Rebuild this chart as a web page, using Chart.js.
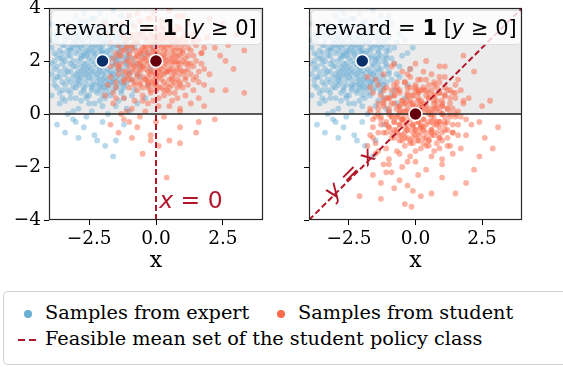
<!DOCTYPE html>
<html>
<head>
<meta charset="utf-8">
<script src="https://cdn.jsdelivr.net/npm/chart.js@4.4.0/dist/chart.umd.min.js"></script>
<style>
  html, body { margin:0; padding:0; background:#fff; width:563px; height:370px; overflow:hidden; }
  canvas { position:absolute; top:0; }
  #c1 { left:0; }
  #c2 { left:301px; }
  #legend { position:absolute; left:3px; top:291px; width:580px; height:72px; border:1px solid #d0d0d0; border-radius:5px;
            font-family:'DejaVu Serif'; font-size:19.3px; color:#000; }
  .txt { position:absolute; white-space:nowrap; line-height:20px; }
  .dot { position:absolute; width:8px; height:8px; border-radius:50%; }
  .dash { position:absolute; width:7px; height:2px; background:#b2182b; }
</style>
</head>
<body>
<canvas id="c1" width="275" height="282"></canvas>
<canvas id="c2" width="231" height="282"></canvas>
<div id="legend">
  <span class="dot" style="left:20px;top:18px;background:#6baed6"></span>
  <span class="txt" id="lg0" style="left:41px;top:11px"></span>
  <span class="dot" style="left:273px;top:18px;background:#fb6a4a"></span>
  <span class="txt" id="lg1" style="left:294px;top:11px"></span>
  <span class="dash" style="left:14px;top:47px"></span>
  <span class="dash" style="left:25px;top:47px"></span>
  <span class="txt" id="lg2" style="left:41px;top:37px"></span>
</div>
<script>
// axes
const xTicks = [-2.5, 0, 2.5];
const yTicks = [-4, -2, 0, 2, 4];
const axisMin = -4, axisMax = 4;

// samples, [x, y]
const expertPoints = [
  [-1.7,1.5],[-3.2,2.4],[-1.2,3.1],[-2.1,1.1],[-0.5,2.2],[-2.6,0.6],[-1.9,2.7],[-3.8,1.7],[-1.1,1.8],[-2.4,3.6],
  [-1.4,2.3],[-2.9,1.3],[-0.8,0.9],[-2.2,2.1],[-1.6,3.9],[-3.5,3.0],[-0.1,2.5],[-2.7,1.9],[-2.0,0.3],[-1.0,2.9],
  [-2.5,2.6],[-1.3,1.2],[-3.0,2.8],[-1.8,0.0],[-2.3,1.6],[-0.6,1.4],[-3.3,0.9],[-1.5,2.0],[-2.8,3.3],[-2.0,2.4],
  [-1.2,-0.4],[-3.6,2.1],[-2.4,1.0],[-0.9,3.4],[-1.7,2.8],[-3.1,-0.2],[-2.2,3.0],[-1.4,0.5],[-2.6,2.2],[-0.3,1.1],
  [-3.4,1.5],[-2.0,1.8],[-1.1,2.4],[-2.9,0.2],[-1.6,1.3],[-3.7,2.7],[-2.3,-0.8],[-0.7,2.7],[-1.9,3.5],[-3.0,1.8],
  [-2.5,1.4],[-1.3,3.7],[-3.9,0.7],[-1.8,2.2],[-2.7,3.8],[-0.4,0.6],[-2.1,2.9],[-1.5,-1.0],[-3.2,1.2],[-2.4,2.5],
  [-1.0,1.6],[-2.8,0.5],[-1.7,3.2],[-3.5,2.3],[-2.2,0.8],[-0.9,2.1],[-2.6,1.7],[-1.4,2.6],[-3.3,3.4],[-2.0,-0.3],
  [-1.2,1.0],[-2.9,2.6],[-3.8,1.1],[-1.6,1.9],[-2.3,3.3],[-0.6,3.0],[-2.7,-0.5],[-1.9,1.4],[-3.1,2.0],[-1.1,0.2],
  [-2.5,3.1],[-3.6,0.4],[-1.3,2.9],[-2.1,1.3],[-0.8,1.9],[-3.0,3.7],[-1.7,0.7],[-2.4,2.0],[-3.4,-0.7],[-1.5,3.4],
  [-2.2,1.5],[-1.0,2.6],[-2.8,2.1],[-3.7,1.4],[-1.9,-1.2],[-2.6,3.5],[-0.2,1.7],[-3.2,2.9],[-1.4,1.1],[-2.0,2.7],
  [-1.8,1.0],[-3.5,1.9],[-2.7,0.9],[-1.2,3.3],[-2.3,2.3],[-0.7,0.4],[-3.1,0.1],[-1.6,2.5],[-1.6,-1.6],[-3.9,2.5],
  [-2.1,3.8],[-1.3,1.5],[-2.9,1.6],[-0.5,3.2],[-3.3,2.2],[-1.8,2.0],[-2.4,0.1],[-1.1,2.2],[-3.6,3.2],[-2.2,1.2],
  [-1.5,0.3],[-2.8,2.8],[-3.0,1.0],[-0.9,1.3],[-2.0,3.2],[-3.4,1.7],[-1.7,2.6],[-2.6,-0.1],[-1.0,3.7],[-3.8,2.0],
  [-2.3,1.9],[-1.4,1.7],[-2.9,3.0],[-3.2,0.6],[-1.9,2.3],[-0.3,2.3],[-2.5,0.7],[-3.7,-0.4],[-1.2,2.0],[-2.1,0.5],
  [-1.6,3.0],[-3.1,2.5],[-2.7,1.5],[-0.8,2.5],[-3.5,1.2],[-2.0,1.1],[-1.3,0.8],[-2.4,2.9],[-3.9,1.5],[-1.8,1.7],
  [-2.2,-1.0],[-1.1,1.2],[-3.3,0.0],[-2.6,2.4],[-1.5,2.1],[-0.6,1.8],[-2.8,1.2],[-3.0,2.3],[-1.9,0.6],[-2.3,3.6],
  [-1.7,1.2],[-3.6,0.8],[-2.5,2.3],[-1.2,2.7],[-3.4,2.6],[-2.0,0.9],[-0.4,2.8],[-2.9,-0.9],[-1.4,2.4],[-3.2,1.6],
  [-2.1,2.0],[-1.0,0.1],[-2.7,2.7],[-3.8,3.0],[-1.6,0.9],[-2.4,1.3],[-1.3,2.2],[-3.1,1.4],[-0.7,1.5],[-2.2,2.6],
  [-1.8,3.0],[-3.5,0.6],[-2.6,1.1],[-1.1,1.9],[-2.0,1.5],[-3.0,-0.3],[-1.5,1.6],[-2.8,1.8],[-0.9,0.7],[-3.7,1.8],
  [-2.3,0.4],[-1.7,2.1],[-3.3,2.4],[-2.5,1.8],[-1.2,0.6],[-2.1,2.2],[-3.9,3.4],[-1.4,3.1],[-2.7,2.2],[-1.9,1.6],
  [-2.3,2.2],[-1.6,1.8],[-2.8,2.5],[-1.9,1.2],[-3.2,1.9],[-2.5,3.0],[-1.4,2.8],[-2.1,1.7],[-3.0,1.5],[-1.7,2.4],
  [-2.6,1.3],[-3.4,2.8],[-2.0,2.1],[-1.2,1.4],[-2.9,2.0],[-3.6,1.6],[-2.2,2.8],[-1.8,0.8],[-2.4,1.7],[-3.1,3.1],
  [-1.5,2.6],[-2.7,1.0],[-3.3,1.3],[-2.0,3.4],[-1.3,2.5],[-2.5,2.1],[-3.8,2.3],[-1.9,1.9],[-2.8,0.8],[-2.2,1.4],
  [-1.6,1.5],[-3.5,2.6],[-2.4,2.7],[-1.1,2.1],[-2.9,2.4],[-3.0,0.6],[-2.1,2.5],[-1.7,1.1],[-2.6,2.9],[-3.7,1.0],
  [-2.3,1.1],[-1.4,1.9],[-3.2,2.2],[-2.7,3.2],[-1.9,2.9],[-2.5,0.4],[-3.4,1.1],[-1.8,2.4],[-2.0,1.3],[-3.1,1.8],
  [-2.8,1.6],[-1.5,1.0],[-2.2,3.3],[-3.6,2.4],[-1.3,1.7],[-2.6,1.9],[-3.0,2.6],[-2.4,0.9],[-1.7,3.3],[-3.9,1.9],
  [-2.1,1.0],[-1.2,2.6],[-2.9,1.1],[-3.3,3.0],[-2.5,2.4],[-1.6,2.2],[-2.0,0.7],[-3.5,0.9],[-2.7,2.3],[-1.4,1.3],
  [-3.1,2.7],[-2.3,2.6],[-1.9,1.0],[-2.8,3.5],[-3.7,2.2],[-1.0,1.5],[-2.4,1.5],[-3.2,0.8],[-1.8,2.7],[-2.6,0.7],
  [-2.2,1.8],[-3.0,1.2],[-1.5,2.9],[-2.9,2.9],[-3.8,1.3],[-2.0,2.3],[-1.3,0.9],[-2.7,1.7],[-3.4,2.0],[-1.7,1.6],
  [-2.5,3.3],[-3.6,1.4],[-2.1,1.6],[-1.1,2.8],[-2.8,2.2],[-3.3,1.6],[-1.9,3.1],[-2.4,1.1],[-3.0,3.3],[-1.6,1.2],
  [-2.3,2.4],[-3.9,2.8],[-2.6,1.5],[-1.2,1.1],[-3.1,1.0],[-2.0,2.6],[-1.5,1.4],[-2.9,1.4],[-3.5,2.1],[-2.2,0.9],
  [-1.8,1.3],[-2.7,2.6],[-3.2,2.5],[-1.4,2.1],[-2.5,1.6],[-3.7,2.9],[-2.1,2.4],[-1.0,2.4],[-2.8,1.4],[-3.4,0.5]
];
const studentPointsLeft = [
  [0.4,1.6],[-0.9,2.5],[1.1,3.0],[-0.3,1.2],[1.7,2.3],[-0.5,0.5],[0.2,2.8],[-1.4,1.8],[0.8,1.9],[-0.2,3.6],
  [0.6,2.2],[-1.0,1.3],[1.4,0.9],[0.0,2.1],[0.5,3.9],[-1.3,3.0],[2.2,2.5],[-0.6,1.9],[0.1,0.3],[1.0,2.9],
  [-0.4,2.6],[0.7,1.2],[-1.1,2.8],[0.3,-0.1],[-0.2,1.6],[1.5,1.4],[-1.5,1.0],[0.4,2.0],[-0.8,3.3],[0.0,2.4],
  [0.9,-0.5],[-1.6,2.1],[-0.3,1.0],[1.2,3.4],[0.3,2.8],[-1.2,-0.2],[0.1,3.0],[0.6,0.5],[-0.7,2.2],[1.8,1.1],
  [-1.4,1.5],[0.0,1.8],[0.9,2.4],[-0.9,0.2],[0.5,1.3],[-1.7,2.7],[-0.2,-0.8],[1.4,2.7],[0.2,3.5],[-1.0,1.8],
  [-0.5,1.4],[0.8,3.7],[-1.9,0.7],[0.3,2.2],[-0.7,3.8],[1.6,0.6],[-0.1,2.9],[0.5,-1.0],[-1.2,1.2],[-0.4,2.5],
  [1.0,1.6],[-0.8,0.5],[0.3,3.2],[-1.5,2.3],[-0.2,0.8],[1.1,2.1],[-0.6,1.7],[0.6,2.6],[-1.3,3.4],[0.0,-0.3],
  [0.8,1.0],[-0.9,2.6],[-1.8,1.1],[0.4,1.9],[-0.3,3.3],[1.4,3.0],[-0.7,-0.5],[0.1,1.4],[-1.1,2.0],[0.9,0.2],
  [-0.5,3.1],[-1.6,0.4],[0.7,2.9],[-0.1,1.3],[1.2,1.9],[-1.0,3.7],[0.3,0.7],[-0.4,2.0],[-1.4,-0.7],[0.5,3.4],
  [-0.2,1.5],[1.0,2.6],[-0.8,2.1],[-1.7,1.4],[0.1,-1.2],[-0.6,3.5],[1.8,1.7],[-1.2,2.9],[0.6,1.1],[0.0,2.7],
  [0.2,1.0],[-1.5,1.9],[-0.7,0.9],[0.8,3.3],[-0.3,2.3],[1.3,0.4],[-1.1,0.1],[0.4,2.5],[-0.5,-1.5],[2.4,2.2],
  [-0.1,3.8],[0.7,1.5],[-0.9,1.6],[1.5,3.2],[-1.3,2.2],[0.2,2.0],[-0.4,0.1],[0.9,2.2],[-1.6,3.2],[-0.2,1.2],
  [0.5,0.3],[-0.8,2.8],[-1.0,1.0],[1.1,1.3],[0.0,3.2],[-1.4,1.7],[0.3,2.6],[-0.6,-0.1],[1.0,3.7],[-1.8,2.0],
  [-0.3,1.9],[0.6,1.7],[-0.9,3.0],[-1.2,0.6],[0.1,2.3],[1.7,2.3],[-0.5,0.7],[-1.7,-0.4],[0.8,2.0],[-0.1,0.5],
  [0.4,3.0],[-1.1,2.5],[-0.7,1.5],[1.2,2.5],[-1.5,1.2],[0.0,1.1],[0.7,0.8],[-0.4,2.9],[2.0,1.5],[0.2,1.7],
  [-0.2,-1.0],[0.9,1.2],[-1.3,0.0],[-0.6,2.4],[0.5,2.1],[1.4,1.8],[-0.8,1.2],[-1.0,2.3],[0.1,0.6],[-0.3,3.6],
  [0.3,1.2],[-1.6,0.8],[-0.5,2.3],[0.8,2.7],[-1.4,2.6],[0.0,0.9],[1.6,2.8],[-0.9,-0.9],[0.6,2.4],[-1.2,1.6],
  [-0.1,2.0],[0.9,0.1],[-0.7,2.7],[-1.8,3.0],[0.4,0.9],[-0.4,1.3],[0.7,2.2],[-1.1,1.4],[1.3,1.5],[-0.2,2.6],
  [0.2,3.0],[-1.5,0.6],[-0.6,1.1],[0.9,1.9],[0.0,1.5],[-1.0,-0.3],[0.5,1.6],[-0.8,1.8],[1.1,0.7],[-1.7,1.8],
  [-0.3,0.4],[0.3,2.1],[-1.3,2.4],[-0.5,1.8],[0.8,0.6],[-0.1,2.2],[-1.9,3.4],[0.6,3.1],[-0.7,2.2],[0.1,1.6],
  [3.3,0.8],[3.3,2.4],[2.2,-0.2],[0.9,-1.1],[2.9,1.7],[2.6,0.9],[3.0,3.0],[2.5,3.4],[2.1,0.9],[2.3,3.1],
  [1.9,2.9],[2.6,2.0],[1.8,0.3],[2.0,3.6],[0.4,-2.4],[1.6,-0.3],[2.7,2.6],[1.5,-0.7],
  [0.2,2.2],[-0.5,1.8],[0.8,2.5],[0.0,1.2],[1.1,1.9],[-0.2,3.0],[0.5,2.8],[-0.8,1.7],[0.3,1.5],[1.3,2.4],
  [-0.4,1.3],[0.7,3.1],[-1.0,2.2],[0.1,2.6],[1.5,2.0],[-0.6,2.9],[0.4,1.1],[-0.1,1.9],[1.0,2.3],[-1.2,2.4],
  [0.6,1.9],[-0.3,2.2],[0.9,1.5],[-0.7,1.4],[0.2,3.3],[1.2,1.1],[-0.9,1.9],[0.0,2.9],[0.5,0.8],[-0.4,3.2],
  [1.4,2.2],[-0.1,1.1],[0.7,2.0],[-1.1,1.6],[0.3,2.4],[1.6,1.6],[-0.6,2.3],[0.1,1.7],[0.9,2.8],[-0.3,1.6],
  [-0.8,2.4],[0.4,2.3],[1.1,1.4],[-0.2,2.5],[0.6,1.4],[-1.3,1.9],[0.0,1.4],[1.3,2.9],[-0.5,1.0],[0.8,1.7],
  [0.2,1.3],[-0.7,3.0],[1.0,1.0],[-0.1,2.3],[0.5,2.6],[-1.0,1.5],[0.3,1.8],[1.7,1.9],[-0.4,1.7],[0.7,2.4],
  [-0.2,0.9],[0.9,3.2],[-0.9,2.9],[0.1,2.0],[1.2,1.7],[-0.6,1.2],[0.4,2.9],[-0.3,2.8],[0.8,1.3],[-1.4,2.2],
  [0.0,2.2],[1.5,2.6],[-0.5,2.5],[0.6,2.0],[-0.1,1.6],[1.0,2.0],[-0.8,1.1],[0.3,0.9],[1.4,1.3],[-0.2,2.0],
  [0.5,1.7],[-1.1,2.6],[0.2,2.5],[0.9,1.7],[-0.4,2.1],[1.1,2.7],[-0.7,1.9],[0.1,1.0],[0.7,2.7],[-0.3,1.4],
  [1.8,2.5],[-0.9,1.3],[0.4,1.6],[-0.1,2.7],[1.3,1.9],[-0.6,1.6],[0.6,1.3],[0.0,2.0],[1.0,2.4],[-1.2,1.3],
  [0.3,2.9],[-0.5,2.1],[0.8,2.2],[-0.2,1.8],[1.2,2.2],[-0.8,2.7],[0.5,1.0],[1.6,1.2],[-0.4,2.4],[0.1,2.8],
  [0.9,1.1],[-1.0,2.0],[0.2,1.5],[0.6,2.9],[-0.3,1.1],[1.4,2.8],[-0.6,2.0],[0.7,1.6],[-0.1,2.4],[1.1,1.6]
];
const studentPointsRight = [
  [0.3,-0.6],[-1.0,0.6],[1.2,0.9],[-0.2,-1.0],[1.6,0.1],[-0.6,-1.5],[0.1,0.9],[-1.5,-0.1],[0.9,-0.3],[-0.3,1.5],
  [0.7,0.2],[-0.8,-0.6],[1.3,-1.2],[0.1,0.0],[0.4,2.0],[-1.4,1.1],[2.0,0.6],[-0.5,-0.2],[0.0,-1.8],[1.1,1.0],
  [-0.3,0.7],[0.6,-0.8],[-1.2,0.9],[0.4,-2.1],[-0.1,-0.5],[1.4,-0.7],[-1.6,-0.9],[0.5,0.1],[-0.7,1.2],[0.1,0.5],
  [1.0,-2.4],[-1.7,0.2],[-0.4,-0.9],[1.1,1.4],[0.2,0.9],[-1.1,-2.2],[0.0,1.1],[0.7,-1.4],[-0.6,0.3],[1.9,-0.8],
  [-1.3,-0.4],[0.1,-0.1],[1.0,0.5],[-1.0,-1.7],[0.6,-0.6],[-1.6,0.8],[-0.3,-2.7],[1.5,0.8],[0.3,1.6],[-0.9,-0.1],
  [-0.4,-0.5],[0.9,1.8],[-1.8,-1.2],[0.2,0.3],[-0.8,1.9],[1.7,-1.3],[0.0,1.0],[0.6,-3.0],[-1.1,-0.7],[-0.3,0.6],
  [1.1,-0.3],[-0.7,-1.4],[0.4,1.3],[-1.4,0.4],[-0.1,-1.1],[1.2,0.2],[-0.5,-0.2],[0.7,0.7],[-1.2,1.5],[0.1,-2.3],
  [0.9,-0.9],[-0.8,0.7],[-1.7,-0.8],[0.5,0.0],[-0.2,1.4],[1.5,1.1],[-0.6,-2.5],[0.2,-0.5],[-1.0,0.1],[1.0,-1.7],
  [-0.4,1.2],[-1.5,-1.5],[0.8,1.0],[0.0,-0.6],[1.3,0.0],[-0.9,1.8],[0.4,-1.2],[-0.3,0.1],[-1.3,-2.6],[0.6,1.5],
  [-0.1,-0.4],[1.1,0.7],[-0.7,0.2],[-1.6,-0.5],[0.2,-3.1],[-0.5,1.6],[1.9,-0.2],[-1.1,1.0],[0.7,-0.8],[0.1,0.8],
  [0.3,-0.9],[-1.4,0.0],[-0.6,-1.0],[0.9,1.4],[-0.2,0.4],[1.4,-1.5],[-1.0,-1.9],[0.5,0.6],[-0.4,-3.4],[2.5,0.3],
  [0.0,1.9],[0.8,-0.4],[-0.8,-0.3],[1.6,1.3],[-1.2,0.3],[0.3,0.1],[-0.3,-1.8],[1.0,0.3],[-1.5,1.3],[-0.1,-0.7],
  [0.6,-1.6],[-0.7,0.9],[-0.9,-0.9],[1.2,-0.6],[0.1,1.3],[-1.3,-0.2],[0.4,0.7],[-0.5,-2.0],[1.1,1.8],[-1.7,0.1],
  [-0.2,0.0],[0.7,-0.2],[-0.8,1.1],[-1.1,-1.3],[0.2,0.4],[1.8,0.4],[-0.4,-1.2],[-1.6,-2.3],[0.9,0.1],[0.0,-1.4],
  [0.5,1.1],[-1.0,0.6],[-0.6,-0.4],[1.3,0.6],[-1.4,-0.7],[0.1,-0.8],[0.8,-1.1],[-0.3,1.0],[2.1,-0.4],[0.3,-0.2],
  [-0.1,-2.9],[1.0,-0.7],[-1.2,-1.9],[-0.5,0.5],[0.6,0.2],[1.5,-0.1],[-0.7,-0.7],[-0.9,0.4],[0.2,-1.3],[-0.2,1.7],
  [0.4,-0.7],[-1.5,-1.1],[-0.4,0.4],[0.9,0.8],[-1.3,0.7],[0.1,-1.0],[1.7,0.9],[-0.8,-2.8],[0.7,0.5],[-1.1,-0.3],
  [0.0,0.1],[1.0,-1.9],[-0.6,0.8],[-1.7,1.0],[0.5,-1.0],[-0.3,-0.6],[0.8,0.3],[-1.0,-0.5],[1.4,-0.4],[-0.1,0.7],
  [0.3,1.0],[-1.4,-1.4],[-0.5,-0.8],[1.0,0.0],[0.1,-0.3],[-0.9,-2.2],[0.6,-0.3],[-0.7,-0.1],[1.2,-1.2],[-1.6,-0.2],
  [-0.2,-1.6],[0.4,0.2],[-1.2,0.5],[-0.4,-0.1],[0.9,-1.3],[0.0,0.3],[-1.8,1.4],[0.7,1.2],[-0.6,0.1],[0.2,-0.4],
  [3.1,-0.5],[2.4,-1.6],[-1.3,-3.2],[-0.15,-3.5],[-2.1,-3.1],[2.9,-1.3],[2.6,-0.9],[2.2,-2.1],[1.5,-3.0],[2.8,0.5],
  [1.9,-2.6],[2.2,1.6],[1.8,2.2],[2.4,-0.3],
  [0.2,0.2],[-0.5,-0.2],[0.8,0.5],[0.0,-0.8],[1.1,-0.1],[-0.2,1.0],[0.5,0.8],[-0.8,-0.3],[0.3,-0.5],[1.3,0.4],
  [-0.4,-0.7],[0.7,1.1],[-1.0,0.2],[0.1,0.6],[1.5,0.0],[-0.6,0.9],[0.4,-0.9],[-0.1,-0.1],[1.0,0.3],[-1.2,0.4],
  [0.6,-0.1],[-0.3,0.2],[0.9,-0.5],[-0.7,-0.6],[0.2,1.3],[1.2,-0.9],[-0.9,-0.1],[0.0,0.9],[0.5,-1.2],[-0.4,1.2],
  [1.4,0.2],[-0.1,-0.9],[0.7,0.0],[-1.1,-0.4],[0.3,0.4],[1.6,-0.4],[-0.6,0.3],[0.1,-0.3],[0.9,0.8],[-0.3,-0.4],
  [-0.8,0.4],[0.4,0.3],[1.1,-0.6],[-0.2,0.5],[0.6,-0.6],[-1.3,-0.1],[0.0,-0.6],[1.3,0.9],[-0.5,-1.0],[0.8,-0.3],
  [0.2,-0.7],[-0.7,1.0],[1.0,-1.0],[-0.1,0.3],[0.5,0.6],[-1.0,-0.5],[0.3,-0.2],[1.7,-0.1],[-0.4,-0.3],[0.7,0.4],
  [-0.2,-1.1],[0.9,1.2],[-0.9,0.9],[0.1,0.0],[1.2,-0.3],[-0.6,-0.8],[0.4,0.9],[-0.3,0.8],[0.8,-0.7],[-1.4,0.2],
  [0.0,0.2],[1.5,0.6],[-0.5,0.5],[0.6,0.0],[-0.1,-0.4],[1.0,0.0],[-0.8,-0.9],[0.3,-1.1],[1.4,-0.7],[-0.2,0.0],
  [0.5,-0.3],[-1.1,0.6],[0.2,0.5],[0.9,-0.3],[-0.4,0.1],[1.1,0.7],[-0.7,-0.1],[0.1,-1.0],[0.7,0.7],[-0.3,-0.6],
  [1.8,0.5],[-0.9,-0.7],[0.4,-0.4],[-0.1,0.7],[1.3,-0.1],[-0.6,-0.4],[0.6,-0.7],[0.0,0.0],[1.0,0.4],[-1.2,-0.7],
  [0.3,0.9],[-0.5,0.1],[0.8,0.2],[-0.2,-0.2],[1.2,0.2],[-0.8,0.7],[0.5,-1.0],[1.6,-0.8],[-0.4,0.4],[0.1,0.8],
  [0.9,-0.9],[-1.0,0.0],[0.2,-0.5],[0.6,0.9],[-0.3,-0.9],[1.4,0.8],[-0.6,0.0],[0.7,-0.4],[-0.1,0.4],[1.1,-0.4]
];

// means and reference lines
const expertMean = [-2, 2];
const studentMeanLeft = [0, 2];
const studentMeanRight = [0, 0];
const zeroLine = [[-4, 0], [4, 0]];
const feasibleLeft = [[0, -4], [0, 4]];
const feasibleRight = [[-4, -4], [4, 4]];

// texts
const seriesNames = ['Samples from expert', 'Samples from student', 'Feasible mean set of the student policy class'];
const titleParts = ['reward ', '= ', '1', ' [', 'y', ' \u2265 0]'];
const lineLabelLeft = ['x', ' = 0'];
const lineLabelRight = ['y', ' = ', 'x'];
const lineLabelLeftAt = [0.12, -3.54];
const lineLabelRightAt = [-2.46, -2.25];

const BLUE = 'rgba(107,174,214,0.48)';
const RED = 'rgba(251,106,74,0.5)';
const CRIMSON = '#b2182b';

seriesNames.forEach((n, i) => document.getElementById('lg' + i).textContent = n);

const toXY = pts => pts.map(p => ({x: p[0], y: p[1]}));
const minus = s => s.replace('-', '\u2212');

// draw a row of text pieces with their own fonts, returns width
function drawPieces(ctx, parts, fonts, x, y, measureOnly){
  let w = 0;
  parts.forEach((p, i) => {
    ctx.font = fonts[i];
    if(!measureOnly) ctx.fillText(p, x + w, y);
    w += ctx.measureText(p).width;
  });
  return w;
}

const decorations = {
  id: 'decorations',
  beforeDatasetsDraw(chart){
    const {ctx, chartArea: a, scales: {y}} = chart;
    const y0 = y.getPixelForValue(0);
    ctx.save();
    ctx.fillStyle = '#ebebeb';
    ctx.fillRect(a.left, a.top, a.right - a.left, y0 - a.top);
    ctx.restore();
  },
  afterDatasetsDraw(chart){
    const {ctx, chartArea: a, scales: {x, y}} = chart;
    const o = chart.options.plugins.decorations;
    ctx.save();
    ctx.fillStyle = CRIMSON;
    ctx.textBaseline = 'alphabetic';
    const lf = ['italic 23.5px "DejaVu Sans"', '23.5px "DejaVu Sans"', 'italic 23.5px "DejaVu Sans"'];
    const px = x.getPixelForValue(o.labelAt[0]), py = y.getPixelForValue(o.labelAt[1]);
    if(o.angle){
      const w = drawPieces(ctx, o.label, lf, 0, 0, true);
      ctx.translate(px, py);
      ctx.rotate(o.angle);
      drawPieces(ctx, o.label, lf, -w / 2, 7.5, false);
    } else {
      drawPieces(ctx, o.label, lf, px, py, false);
    }
    ctx.restore();

    // title box
    ctx.save();
    const tf = ['21px "DejaVu Serif"', '21px "DejaVu Sans"', 'bold 21px "DejaVu Sans"', '21px "DejaVu Sans"', 'italic 21px "DejaVu Sans"', '21px "DejaVu Sans"'];
    const tw = drawPieces(ctx, titleParts, tf, 0, 0, true);
    const bx = a.left + 2, by = a.top + 2, bw = tw + 8, bh = 34;
    ctx.fillStyle = 'rgba(255,255,255,0.8)';
    ctx.strokeStyle = 'rgba(215,215,215,0.8)';
    ctx.lineWidth = 1;
    ctx.beginPath();
    ctx.roundRect(bx + 0.5, by + 0.5, bw, bh, 4);
    ctx.fill(); ctx.stroke();
    ctx.fillStyle = '#000';
    drawPieces(ctx, titleParts, tf, bx + 4, by + 25, false);
    ctx.restore();

    // frame
    ctx.save();
    ctx.strokeStyle = '#262626';
    ctx.lineWidth = 1.2;
    ctx.strokeRect(Math.round(a.left) + 0.5, Math.round(a.top) + 0.5, Math.round(a.right - a.left) - 1, Math.round(a.bottom - a.top) - 1);
    ctx.restore();
  }
};

function makeChart(id, cfg){
  const tickFont = {family: 'DejaVu Serif', size: 18.5};
  return new Chart(document.getElementById(id), {
    type: 'scatter',
    data: {
      datasets: [
        { data: toXY([expertMean, cfg.studentMean]), backgroundColor: ['#08306b', '#67000d'],
          borderColor: '#fff', borderWidth: 1.5, pointRadius: 6.5, clip: 0 },
        { data: toXY(cfg.feasible), showLine: true, borderColor: CRIMSON, borderWidth: 2,
          borderDash: [6, 3], pointRadius: 0, clip: 0 },
        { data: toXY(zeroLine), showLine: true, borderColor: '#262626', borderWidth: 1.4, pointRadius: 0, clip: 0 },
        { label: seriesNames[1], data: toXY(cfg.student), backgroundColor: RED, borderWidth: 0, pointRadius: 2.9, clip: 0 },
        { label: seriesNames[0], data: toXY(expertPoints), backgroundColor: BLUE, borderWidth: 0, pointRadius: 2.9, clip: 0 }
      ]
    },
    options: {
      responsive: false, animation: false, events: [],
      layout: { padding: { top: 5, right: cfg.padRight, left: 0, bottom: 0 } },
      plugins: { legend: { display: false }, tooltip: { enabled: false },
                 decorations: { label: cfg.label, labelAt: cfg.labelAt, angle: cfg.angle } },
      scales: {
        x: {
          type: 'linear', min: axisMin, max: axisMax,
          afterBuildTicks: s => { s.ticks = xTicks.map(v => ({value: v})); },
          ticks: { font: tickFont, color: '#000', padding: 3, maxRotation: 0, callback: v => minus(v.toFixed(1)) },
          grid: { drawOnChartArea: false, color: '#000', tickLength: 5 },
          border: { display: false },
          title: { display: true, text: 'x', color: '#000', font: {family: 'DejaVu Serif', size: 22},
                   padding: { top: 0, bottom: 8 } },
          afterFit: s => { s.height = 62; s.paddingLeft = 0; s.paddingRight = 0; }
        },
        y: {
          type: 'linear', min: axisMin, max: axisMax,
          afterBuildTicks: s => { s.ticks = yTicks.map(v => ({value: v})); },
          ticks: { display: cfg.yLabels, font: tickFont, color: '#000', padding: 3, callback: v => minus(String(v)) },
          grid: { drawOnChartArea: false, color: '#000', tickLength: 5 },
          border: { display: false },
          afterFit: s => { s.width = cfg.yWidth; s.paddingTop = 0; s.paddingBottom = 0; }
        }
      }
    },
    plugins: [decorations]
  });
}

makeChart('c1', { student: studentPointsLeft, studentMean: studentMeanLeft, feasible: feasibleLeft,
  label: lineLabelLeft, labelAt: lineLabelLeftAt, angle: 0, yLabels: true, yWidth: 49, padRight: 12 });
makeChart('c2', { student: studentPointsRight, studentMean: studentMeanRight, feasible: feasibleRight,
  label: lineLabelRight, labelAt: lineLabelRightAt, angle: -Math.PI / 4, yLabels: false, yWidth: 6, padRight: 10 });
</script>
</body>
</html>
